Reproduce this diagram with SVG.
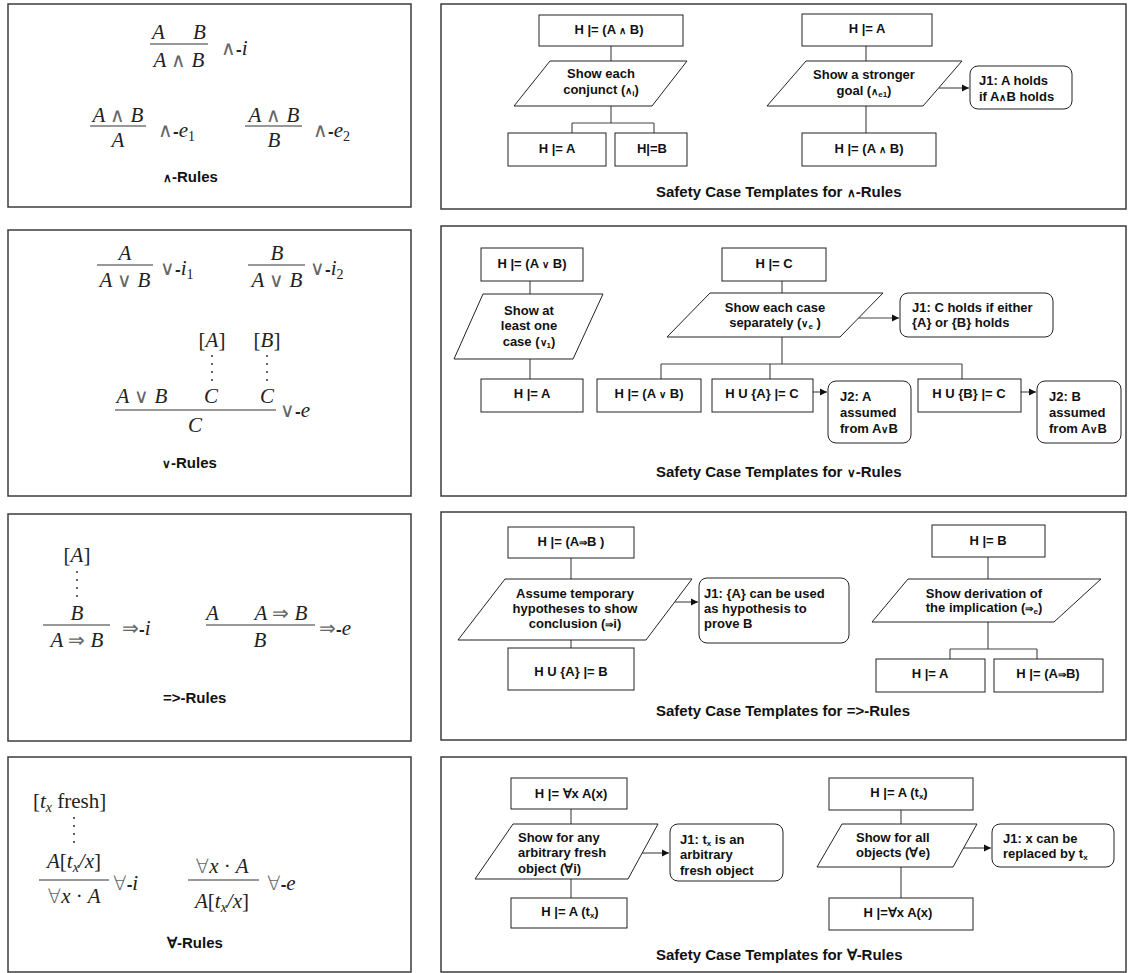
<svg xmlns="http://www.w3.org/2000/svg" width="1128" height="973" viewBox="0 0 1128 973">
<defs>
<marker id="arr" markerUnits="userSpaceOnUse" markerWidth="8" markerHeight="8" refX="7" refY="4" orient="auto">
<path d="M0,0.5 L7,4 L0,7.5 z" fill="#111"/>
</marker>
<style>
.panel{fill:#fff;stroke:#3c3c3c;stroke-width:1.5}
.box{fill:#fff;stroke:#222;stroke-width:1}
.t{font-family:"Liberation Sans",Arial,sans-serif;font-weight:bold;font-size:13px;fill:#111}
.c{text-anchor:middle}
.sm{font-size:9.5px}
.sub{font-size:8px}
.title{font-family:"Liberation Sans",Arial,sans-serif;font-weight:bold;font-size:15px;fill:#111}
.m{font-family:"Liberation Serif","Times New Roman",serif;font-size:21px;font-style:italic;fill:#222}
.u{font-style:normal}
.op{font-family:"DejaVu Sans",sans-serif;font-weight:200;font-style:normal;font-size:20px;fill:#666}
.h{font-family:"Liberation Sans",Arial,sans-serif;font-weight:bold;font-style:normal;font-size:17px}
.ms{font-size:14px}
.fl{stroke:#333;stroke-width:1.2}
.conn{stroke:#444;stroke-width:1.1;fill:none}
.ar{marker-end:url(#arr)}
.dot{fill:#333}
</style>
</defs>

<!-- panels -->
<rect class="panel" x="8" y="4" width="403" height="203"/>
<rect class="panel" x="8" y="230" width="403" height="266"/>
<rect class="panel" x="8" y="514" width="403" height="227"/>
<rect class="panel" x="8" y="757" width="403" height="215"/>
<rect class="panel" x="441" y="4" width="685" height="205"/>
<rect class="panel" x="441" y="226" width="685" height="270"/>
<rect class="panel" x="441" y="512" width="685" height="228"/>
<rect class="panel" x="441" y="757" width="685" height="215"/>

<!-- Left panel 1: and-rules -->
<g id="and-i">
<text class="m" x="152" y="39">A</text><text class="m" x="193" y="39">B</text>
<line class="fl" x1="150" y1="44" x2="208" y2="44"/>
<text class="m c" x="179" y="67">A <tspan class="op">∧</tspan> B</text>
<text class="m" x="221" y="55"><tspan class="op">∧</tspan><tspan class="h">-</tspan>i</text>
</g>
<g id="and-e1">
<text class="m c" x="118" y="122">A <tspan class="op">∧</tspan> B</text>
<line class="fl" x1="90" y1="126" x2="146" y2="126"/>
<text class="m c" x="118" y="147">A</text>
<text class="m" x="158" y="137"><tspan class="op">∧</tspan><tspan class="h">-</tspan>e<tspan class="u ms" dy="4">1</tspan></text>
</g>
<g id="and-e2">
<text class="m c" x="274" y="122">A <tspan class="op">∧</tspan> B</text>
<line class="fl" x1="245" y1="126" x2="302" y2="126"/>
<text class="m c" x="274" y="147">B</text>
<text class="m" x="313" y="137"><tspan class="op">∧</tspan><tspan class="h">-</tspan>e<tspan class="u ms" dy="4">2</tspan></text>
</g>
<text class="title" x="163" y="182"><tspan font-size="12">∧</tspan>-Rules</text>

<!-- Left panel 2: or-rules -->
<g id="or-i1">
<text class="m c" x="125" y="260">A</text>
<line class="fl" x1="97" y1="265" x2="153" y2="265"/>
<text class="m c" x="125" y="287">A <tspan class="op">∨</tspan> B</text>
<text class="m" x="160" y="275"><tspan class="op">∨</tspan><tspan class="h">-</tspan>i<tspan class="u ms" dy="4">1</tspan></text>
</g>
<g id="or-i2">
<text class="m c" x="277" y="260">B</text>
<line class="fl" x1="248" y1="265" x2="305" y2="265"/>
<text class="m c" x="277" y="287">A <tspan class="op">∨</tspan> B</text>
<text class="m" x="310" y="275"><tspan class="op">∨</tspan><tspan class="h">-</tspan>i<tspan class="u ms" dy="4">2</tspan></text>
</g>
<g id="or-e">
<text class="m c" x="212" y="347"><tspan class="u">[</tspan>A<tspan class="u">]</tspan></text>
<text class="m c" x="267" y="347"><tspan class="u">[</tspan>B<tspan class="u">]</tspan></text>
<circle class="dot" cx="212" cy="356" r="1"/><circle class="dot" cx="212" cy="364" r="1"/><circle class="dot" cx="212" cy="372" r="1"/><circle class="dot" cx="212" cy="380" r="1"/>
<circle class="dot" cx="267" cy="356" r="1"/><circle class="dot" cx="267" cy="364" r="1"/><circle class="dot" cx="267" cy="372" r="1"/><circle class="dot" cx="267" cy="380" r="1"/>
<text class="m c" x="142" y="403">A <tspan class="op">∨</tspan> B</text>
<text class="m c" x="211" y="403">C</text>
<text class="m c" x="267" y="403">C</text>
<line class="fl" x1="115" y1="410" x2="276" y2="410"/>
<text class="m c" x="195" y="432">C</text>
<text class="m" x="280" y="417"><tspan class="op">∨</tspan><tspan class="h">-</tspan>e</text>
</g>
<text class="title" x="162" y="468"><tspan font-size="12">∨</tspan>-Rules</text>

<!-- Left panel 3: implies-rules -->
<g id="imp-i">
<text class="m c" x="77" y="562"><tspan class="u">[</tspan>A<tspan class="u">]</tspan></text>
<circle class="dot" cx="77" cy="572" r="1"/><circle class="dot" cx="77" cy="580" r="1"/><circle class="dot" cx="77" cy="588" r="1"/><circle class="dot" cx="77" cy="596" r="1"/>
<text class="m c" x="77" y="620">B</text>
<line class="fl" x1="43" y1="625" x2="110" y2="625"/>
<text class="m c" x="77" y="647">A <tspan class="op">⇒</tspan> B</text>
<text class="m" x="122" y="635"><tspan class="op">⇒</tspan><tspan class="h">-</tspan>i</text>
</g>
<g id="imp-e">
<text class="m" x="206" y="620">A</text>
<text class="m c" x="281" y="620">A <tspan class="op">⇒</tspan> B</text>
<line class="fl" x1="206" y1="625" x2="315" y2="625"/>
<text class="m c" x="260" y="647">B</text>
<text class="m" x="319" y="635"><tspan class="op">⇒</tspan><tspan class="h">-</tspan>e</text>
</g>
<text class="title" x="163" y="703">=&gt;-Rules</text>

<!-- Left panel 4: forall-rules -->
<g id="all-i">
<text class="m" x="33" y="808"><tspan class="u">[</tspan>t<tspan class="ms" dy="4">x</tspan><tspan class="u" dy="-4"> fresh]</tspan></text>
<circle class="dot" cx="74" cy="818" r="1"/><circle class="dot" cx="74" cy="826" r="1"/><circle class="dot" cx="74" cy="834" r="1"/><circle class="dot" cx="74" cy="842" r="1"/>
<text class="m c" x="74" y="868">A<tspan class="u">[</tspan>t<tspan class="ms" dy="4">x</tspan><tspan dy="-4">/x</tspan><tspan class="u">]</tspan></text>
<line class="fl" x1="39" y1="880" x2="109" y2="880"/>
<text class="m c" x="74" y="903"><tspan class="op">∀</tspan>x <tspan class="u">·</tspan> A</text>
<text class="m" x="113" y="890"><tspan class="op">∀</tspan><tspan class="h">-</tspan>i</text>
</g>
<g id="all-e">
<text class="m c" x="222" y="873"><tspan class="op">∀</tspan>x <tspan class="u">·</tspan> A</text>
<line class="fl" x1="188" y1="880" x2="259" y2="880"/>
<text class="m c" x="222" y="908">A<tspan class="u">[</tspan>t<tspan class="ms" dy="4">x</tspan><tspan dy="-4">/x</tspan><tspan class="u">]</tspan></text>
<text class="m" x="267" y="890"><tspan class="op">∀</tspan><tspan class="h">-</tspan>e</text>
</g>
<text class="title" x="167" y="948">∀-Rules</text>

<!-- connectors -->
<g id="connectors">
<path class="conn" d="M611,46V61 M611,106V123 M572,123H654 M572,123V133 M654,123V133"/>
<path class="conn" d="M866,46V61 M866,106V133"/>
<path class="conn ar" d="M939,88H969"/>
<path class="conn" d="M530,281V294 M530,359V379"/>
<path class="conn" d="M782,281V293 M782,337V364 M661,364H962 M661,364V379 M770,364V379 M962,364V379"/>
<path class="conn ar" d="M858,318H899"/>
<path class="conn ar" d="M813,392H827"/>
<path class="conn ar" d="M1021,392H1036"/>
<path class="conn" d="M571,558V579 M571,640V648"/>
<path class="conn ar" d="M672,602H698"/>
<path class="conn" d="M988,557V579 M988,622V649 M950,649H1037 M950,649V659 M1037,649V659"/>
<path class="conn" d="M571,809V824 M571,879V898"/>
<path class="conn ar" d="M641,853H669"/>
<path class="conn" d="M901,810V824 M901,867V898"/>
<path class="conn ar" d="M962,848H991"/>
</g>

<!-- R1 -->
<g id="r1-goal"><rect class="box" x="539" y="15" width="144" height="31"/><text class="t c" x="609" y="34">H |= (A <tspan class="sm">∧</tspan> B)</text></g>
<g id="r1-strat"><polygon class="box" points="550,61 687,61 652,106 514,106"/><text class="t c" x="601" y="78">Show each</text><text class="t c" x="601" y="94">conjunct (<tspan class="sm">∧</tspan><tspan class="sub" dy="2">i</tspan><tspan dy="-2">)</tspan></text></g>
<g id="r1-subA"><rect class="box" x="508" y="133" width="98" height="33"/><text class="t c" x="557" y="153">H |= A</text></g>
<g id="r1-subB"><rect class="box" x="615" y="133" width="72" height="33"/><text class="t c" x="652" y="153">H|=B</text></g>
<g id="r1b-goal"><rect class="box" x="802" y="14" width="130" height="32"/><text class="t c" x="867" y="33">H |= A</text></g>
<g id="r1b-strat"><polygon class="box" points="806,61 962,61 923,106 767,106"/><text class="t c" x="864" y="79">Show a stronger</text><text class="t c" x="864" y="95">goal (<tspan class="sm">∧</tspan><tspan class="sub" dy="2">e1</tspan><tspan dy="-2">)</tspan></text></g>
<g id="r1b-just"><rect class="box" x="970" y="66" width="102" height="43" rx="8"/><text class="t" x="979" y="85">J1: A holds</text><text class="t" x="979" y="101">if A<tspan class="sm">∧</tspan>B holds</text></g>
<g id="r1b-sub"><rect class="box" x="802" y="133" width="134" height="33"/><text class="t c" x="869" y="153">H |= (A <tspan class="sm">∧</tspan> B)</text></g>
<text class="title" x="656" y="197">Safety Case Templates for <tspan font-size="12">∧</tspan>-Rules</text>

<!-- R2 -->
<g id="r2-goal"><rect class="box" x="481" y="248" width="102" height="33"/><text class="t c" x="532" y="268">H |= (A <tspan class="sm">∨</tspan> B)</text></g>
<g id="r2-strat"><polygon class="box" points="483,294 603,294 573,359 454,359"/><text class="t c" x="529" y="315">Show at</text><text class="t c" x="529" y="330">least one</text><text class="t c" x="529" y="346">case (<tspan class="sm">∨</tspan><tspan class="sub" dy="2">1</tspan><tspan dy="-2">)</tspan></text></g>
<g id="r2-sub"><rect class="box" x="481" y="379" width="102" height="33"/><text class="t c" x="532" y="398">H |= A</text></g>
<g id="r2b-goal"><rect class="box" x="722" y="248" width="104" height="33"/><text class="t c" x="774" y="268">H |= C</text></g>
<g id="r2b-strat"><polygon class="box" points="710,293 883,293 840,337 667,337"/><text class="t c" x="775" y="312">Show each case</text><text class="t c" x="775" y="327">separately (<tspan class="sm">∨</tspan><tspan class="sub" dy="2">e</tspan><tspan dy="-2"> )</tspan></text></g>
<g id="r2b-just"><rect class="box" x="900" y="293" width="153" height="44" rx="8"/><text class="t" x="912" y="312">J1: C holds if either</text><text class="t" x="912" y="327">{A} or {B} holds</text></g>
<g id="r2b-sub1"><rect class="box" x="597" y="379" width="104" height="33"/><text class="t c" x="649" y="398">H |= (A <tspan class="sm">∨</tspan> B)</text></g>
<g id="r2b-sub2"><rect class="box" x="712" y="379" width="101" height="33"/><text class="t c" x="762" y="398">H U {A} |= C</text></g>
<g id="r2b-j2a"><rect class="box" x="828" y="381" width="83" height="62" rx="8"/><text class="t" x="840" y="401">J2: A</text><text class="t" x="840" y="417">assumed</text><text class="t" x="840" y="433">from A<tspan class="sm">∨</tspan>B</text></g>
<g id="r2b-sub3"><rect class="box" x="918" y="379" width="103" height="33"/><text class="t c" x="969" y="398">H U {B} |= C</text></g>
<g id="r2b-j2b"><rect class="box" x="1037" y="381" width="84" height="62" rx="8"/><text class="t" x="1049" y="401">J2: B</text><text class="t" x="1049" y="417">assumed</text><text class="t" x="1049" y="433">from A<tspan class="sm">∨</tspan>B</text></g>
<text class="title" x="656" y="477">Safety Case Templates for <tspan font-size="12">∨</tspan>-Rules</text>

<!-- R3 -->
<g id="r3-goal"><rect class="box" x="508" y="527" width="126" height="31"/><text class="t c" x="571" y="546">H |= (A<tspan class="sm">⇒</tspan>B )</text></g>
<g id="r3-strat"><polygon class="box" points="505,579 692,579 646,640 458,640"/><text class="t c" x="575" y="598">Assume temporary</text><text class="t c" x="575" y="613">hypotheses to show</text><text class="t c" x="575" y="628">conclusion (<tspan class="sm">⇒</tspan>i)</text></g>
<g id="r3-just"><rect class="box" x="699" y="578" width="150" height="65" rx="8"/><text class="t" x="704" y="598">J1: {A} can be used</text><text class="t" x="704" y="613">as hypothesis to</text><text class="t" x="704" y="628">prove B</text></g>
<g id="r3-sub"><rect class="box" x="508" y="648" width="126" height="42"/><text class="t c" x="571" y="676">H U {A} |= B</text></g>
<g id="r3b-goal"><rect class="box" x="932" y="525" width="113" height="32"/><text class="t c" x="988" y="545">H |= B</text></g>
<g id="r3b-strat"><polygon class="box" points="908,579 1101,579 1054,622 872,622"/><text class="t c" x="984" y="598">Show derivation of</text><text class="t c" x="984" y="612">the implication (<tspan class="sm">⇒</tspan><tspan class="sub" dy="2">e</tspan><tspan dy="-2">)</tspan></text></g>
<g id="r3b-sub1"><rect class="box" x="876" y="659" width="109" height="33"/><text class="t c" x="930" y="678">H |= A</text></g>
<g id="r3b-sub2"><rect class="box" x="994" y="659" width="109" height="33"/><text class="t c" x="1048" y="678">H |= (A<tspan class="sm">⇒</tspan>B)</text></g>
<text class="title" x="656" y="716">Safety Case Templates for =&gt;-Rules</text>

<!-- R4 -->
<g id="r4-goal"><rect class="box" x="511" y="778" width="116" height="31"/><text class="t c" x="571" y="798">H |= ∀x A(x)</text></g>
<g id="r4-strat"><polygon class="box" points="513,824 658,824 628,879 475,879"/><text class="t" x="518" y="842">Show for any</text><text class="t" x="518" y="857">arbitrary fresh</text><text class="t" x="518" y="873">object (∀i)</text></g>
<g id="r4-just"><rect class="box" x="670" y="824" width="113" height="57" rx="8"/><text class="t" x="680" y="844">J1: t<tspan class="sub" dy="2">x</tspan><tspan dy="-2"> is an</tspan></text><text class="t" x="680" y="859">arbitrary</text><text class="t" x="680" y="875">fresh object</text></g>
<g id="r4-sub"><rect class="box" x="511" y="898" width="116" height="30"/><text class="t c" x="570" y="916">H |= A (t<tspan class="sub" dy="2">x</tspan><tspan dy="-2">)</tspan></text></g>
<g id="r4b-goal"><rect class="box" x="829" y="778" width="144" height="32"/><text class="t c" x="899" y="797">H |= A (t<tspan class="sub" dy="2">x</tspan><tspan dy="-2">)</tspan></text></g>
<g id="r4b-strat"><polygon class="box" points="842,824 977,824 953,867 817,867"/><text class="t" x="856" y="842">Show for all</text><text class="t" x="856" y="857">objects (∀e)</text></g>
<g id="r4b-just"><rect class="box" x="992" y="824" width="122" height="43" rx="8"/><text class="t" x="1003" y="843">J1: x can be</text><text class="t" x="1003" y="858">replaced by t<tspan class="sub" dy="2">x</tspan></text></g>
<g id="r4b-sub"><rect class="box" x="829" y="898" width="144" height="32"/><text class="t c" x="898" y="917">H |=∀x A(x)</text></g>
<text class="title" x="656" y="960">Safety Case Templates for ∀-Rules</text>
</svg>
